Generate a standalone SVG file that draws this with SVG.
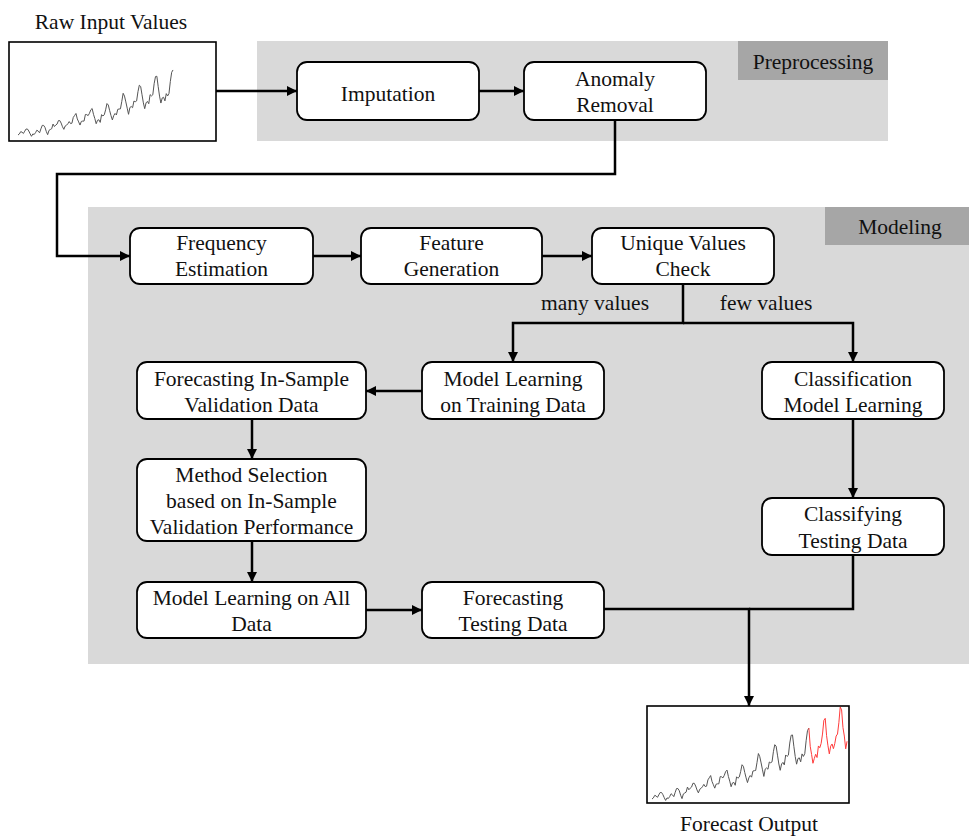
<svg xmlns="http://www.w3.org/2000/svg" width="969" height="836" viewBox="0 0 969 836">
  <style>
    .lbl { font-family: "Liberation Serif", "Times New Roman", serif; font-size: 21.5px; fill: #111; text-anchor: middle; }
    .box { fill: #ffffff; stroke: #000; stroke-width: 1.8; }
    .stage { fill: #d9d9d9; }
    .tag { fill: #a6a6a6; }
    .conn { fill: none; stroke: #000; stroke-width: 2.5; }
    .frame { fill: #ffffff; stroke: #000; stroke-width: 1.6; }
    .series { fill: none; stroke: #555; stroke-width: 1; vector-effect: non-scaling-stroke; stroke-linejoin: round; }
    .fcst { fill: none; stroke: #ff3b3b; stroke-width: 1; vector-effect: non-scaling-stroke; stroke-linejoin: round; }
  </style>
  <defs>
    <marker id="arrow" viewBox="0 0 10 10" refX="10" refY="5" markerWidth="10" markerHeight="10" markerUnits="userSpaceOnUse" orient="auto">
      <path d="M0,0 L10,5 L0,10 z" fill="#000"/>
    </marker>
    <!-- monthly passenger counts, x = month index, y = value -->
    <polyline id="history" class="series" points="0,112 1,118 2,132 3,129 4,121 5,135 6,148 7,148 8,136 9,119 10,104 11,118 12,115 13,126 14,141 15,135 16,125 17,149 18,170 19,170 20,158 21,133 22,114 23,140 24,145 25,150 26,178 27,163 28,172 29,178 30,199 31,199 32,184 33,162 34,146 35,166 36,171 37,180 38,193 39,181 40,183 41,218 42,230 43,242 44,209 45,191 46,172 47,194 48,196 49,196 50,236 51,235 52,229 53,243 54,264 55,272 56,237 57,211 58,180 59,201 60,204 61,188 62,235 63,227 64,234 65,264 66,302 67,293 68,259 69,229 70,203 71,229 72,242 73,233 74,267 75,269 76,270 77,315 78,364 79,347 80,312 81,274 82,237 83,278 84,284 85,277 86,317 87,313 88,318 89,374 90,413 91,405 92,355 93,306 94,271 95,306 96,315 97,301 98,356 99,348 100,355 101,422 102,465 103,467 104,404 105,347 106,305 107,336 108,340 109,318 110,362 111,348 112,363 113,435 114,491 115,505"/>
  </defs>

  <!-- stage backgrounds -->
  <rect class="stage" x="257" y="41" width="631" height="100"/>
  <rect class="tag" x="738" y="41" width="150" height="39"/>
  <text class="lbl" x="813" y="69">Preprocessing</text>

  <rect class="stage" x="88" y="207" width="881" height="457"/>
  <rect class="tag" x="825" y="207" width="144" height="38"/>
  <text class="lbl" x="900" y="234">Modeling</text>

  <!-- connectors -->
  <g id="connectors">
    <path class="conn" d="M216 91 H297" marker-end="url(#arrow)"/>
    <path class="conn" d="M479 91 H524" marker-end="url(#arrow)"/>
    <path class="conn" d="M615 120 V174 H57 V256 H130" marker-end="url(#arrow)"/>
    <path class="conn" d="M313 256 H361" marker-end="url(#arrow)"/>
    <path class="conn" d="M542 256 H592" marker-end="url(#arrow)"/>
    <path class="conn" d="M683 284 V323 H513 V362" marker-end="url(#arrow)"/>
    <path class="conn" d="M683 323 H853 V362" marker-end="url(#arrow)"/>
    <path class="conn" d="M422 391 H366" marker-end="url(#arrow)"/>
    <path class="conn" d="M252 419 V459" marker-end="url(#arrow)"/>
    <path class="conn" d="M252 541 V582" marker-end="url(#arrow)"/>
    <path class="conn" d="M366 610 H422" marker-end="url(#arrow)"/>
    <path class="conn" d="M853 419 V498" marker-end="url(#arrow)"/>
    <path class="conn" d="M853 555 V609 H749"/>
    <path class="conn" d="M604 609 H749 V706" marker-end="url(#arrow)"/>
    <text class="lbl" x="595" y="310">many values</text>
    <text class="lbl" x="766" y="310">few values</text>
  </g>

  <!-- input series -->
  <g id="raw-input">
    <text class="lbl" x="111" y="29">Raw Input Values</text>
    <rect class="frame" x="9" y="42" width="207" height="99"/>
    <use href="#history" transform="matrix(1.348 0 0 -0.1654 18 153.5)"/>
  </g>

  <g id="imputation">
    <rect class="box" x="297" y="62" width="182" height="58" rx="10"/>
    <text class="lbl" x="388" y="101">Imputation</text>
  </g>
  <g id="anomaly-removal">
    <rect class="box" x="524" y="62" width="182" height="58" rx="10"/>
    <text class="lbl" x="615" y="86">Anomaly</text>
    <text class="lbl" x="615" y="112">Removal</text>
  </g>

  <g id="frequency-estimation">
    <rect class="box" x="130" y="228" width="183" height="56" rx="10"/>
    <text class="lbl" x="221.5" y="250">Frequency</text>
    <text class="lbl" x="221.5" y="276">Estimation</text>
  </g>
  <g id="feature-generation">
    <rect class="box" x="361" y="228" width="181" height="56" rx="10"/>
    <text class="lbl" x="451.5" y="250">Feature</text>
    <text class="lbl" x="451.5" y="276">Generation</text>
  </g>
  <g id="unique-values-check">
    <rect class="box" x="592" y="228" width="182" height="56" rx="10"/>
    <text class="lbl" x="683" y="250">Unique Values</text>
    <text class="lbl" x="683" y="276">Check</text>
  </g>

  <g id="model-learning-training">
    <rect class="box" x="422" y="362" width="182" height="57" rx="10"/>
    <text class="lbl" x="513" y="385.5">Model Learning</text>
    <text class="lbl" x="513" y="411.5">on Training Data</text>
  </g>
  <g id="forecasting-validation">
    <rect class="box" x="137" y="362" width="229" height="57" rx="10"/>
    <text class="lbl" x="251.5" y="385.5">Forecasting In-Sample</text>
    <text class="lbl" x="251.5" y="411.5">Validation Data</text>
  </g>
  <g id="classification-learning">
    <rect class="box" x="762" y="362" width="182" height="57" rx="10"/>
    <text class="lbl" x="853" y="385.5">Classification</text>
    <text class="lbl" x="853" y="411.5">Model Learning</text>
  </g>

  <g id="method-selection">
    <rect class="box" x="137" y="459" width="229" height="82" rx="10"/>
    <text class="lbl" x="251.5" y="482">Method Selection</text>
    <text class="lbl" x="251.5" y="508">based on In-Sample</text>
    <text class="lbl" x="251.5" y="534">Validation Performance</text>
  </g>
  <g id="classifying-testing">
    <rect class="box" x="762" y="498" width="182" height="57" rx="10"/>
    <text class="lbl" x="853" y="521">Classifying</text>
    <text class="lbl" x="853" y="547.5">Testing Data</text>
  </g>

  <g id="model-learning-all">
    <rect class="box" x="137" y="582" width="229" height="56" rx="10"/>
    <text class="lbl" x="251.5" y="604.5">Model Learning on All</text>
    <text class="lbl" x="251.5" y="630.5">Data</text>
  </g>
  <g id="forecasting-testing">
    <rect class="box" x="422" y="582" width="182" height="56" rx="10"/>
    <text class="lbl" x="513" y="604.5">Forecasting</text>
    <text class="lbl" x="513" y="630.5">Testing Data</text>
  </g>

  <!-- output series with forecast tail -->
  <g id="forecast-output">
    <rect class="frame" x="647" y="706" width="202" height="97" stroke="#333"/>
    <use href="#history" transform="matrix(1.364 0 0 -0.1804 652 819.2)"/>
    <polyline class="fcst" transform="matrix(1.364 0 0 -0.1804 652 819.2)" points="115,505 116,404 117,359 118,310 119,337 120,360 121,342 122,406 123,396 124,420 125,472 126,548 127,559 128,463 129,407 130,362 131,405 132,417 133,391 134,419 135,461 136,472 137,535 138,622 139,606 140,508 141,461 142,390 143,432"/>
    <text class="lbl" x="749" y="831">Forecast Output</text>
  </g>
</svg>
